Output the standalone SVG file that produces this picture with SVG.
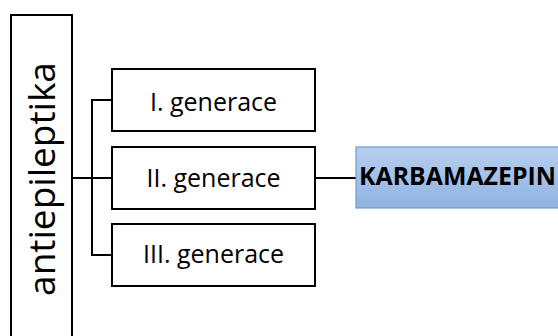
<svg xmlns="http://www.w3.org/2000/svg" width="558" height="336" viewBox="0 0 558 336">
  <defs>
    <linearGradient id="blueFill" x1="0" y1="0" x2="0" y2="1">
      <stop offset="0" stop-color="#b7cfee"/>
      <stop offset="1" stop-color="#8fb3e2"/>
    </linearGradient>
    <style>
      .box { fill: #ffffff; stroke: #000000; stroke-width: 2; }
      .drug { fill: url(#blueFill); stroke: #6e9bd4; stroke-width: 1.2; }
      .label { font-family: "Open Sans", "Liberation Sans", sans-serif; fill: #000000; }
      .gen { font-size: 25px; text-anchor: middle; }
      .root { font-size: 37px; text-anchor: middle; }
      .bold { font-size: 25px; font-weight: bold; }
      .wire { fill: none; stroke: #000000; stroke-width: 2; }
    </style>
  </defs>

  <rect width="558" height="336" fill="#ffffff"/>

  <!-- connectors -->
  <g id="connectors">
    <path class="wire" d="M72 178 H112"/>
    <path class="wire" d="M112 100 H92 V255 H112"/>
    <path class="wire" d="M315 178 H356"/>
  </g>

  <!-- root: vertical label box -->
  <g id="antiepileptika">
    <rect class="box" x="11" y="15" width="61" height="330"/>
    <text class="label root" transform="translate(55 179) rotate(-90)">antiepileptika</text>
  </g>

  <g id="gen1">
    <rect class="box" x="112" y="69" width="203" height="62"/>
    <text class="label gen" x="213.5" y="111">I. generace</text>
  </g>

  <g id="gen2">
    <rect class="box" x="112" y="147" width="203" height="62"/>
    <text class="label gen" x="213.5" y="187">II. generace</text>
  </g>

  <g id="gen3">
    <rect class="box" x="112" y="224" width="203" height="62"/>
    <text class="label gen" x="213.5" y="263">III. generace</text>
  </g>

  <g id="karbamazepin">
    <rect class="drug" x="356" y="147" width="210" height="61"/>
    <text class="label bold" x="359" y="185" textLength="197" lengthAdjust="spacingAndGlyphs">KARBAMAZEPIN</text>
  </g>
</svg>
